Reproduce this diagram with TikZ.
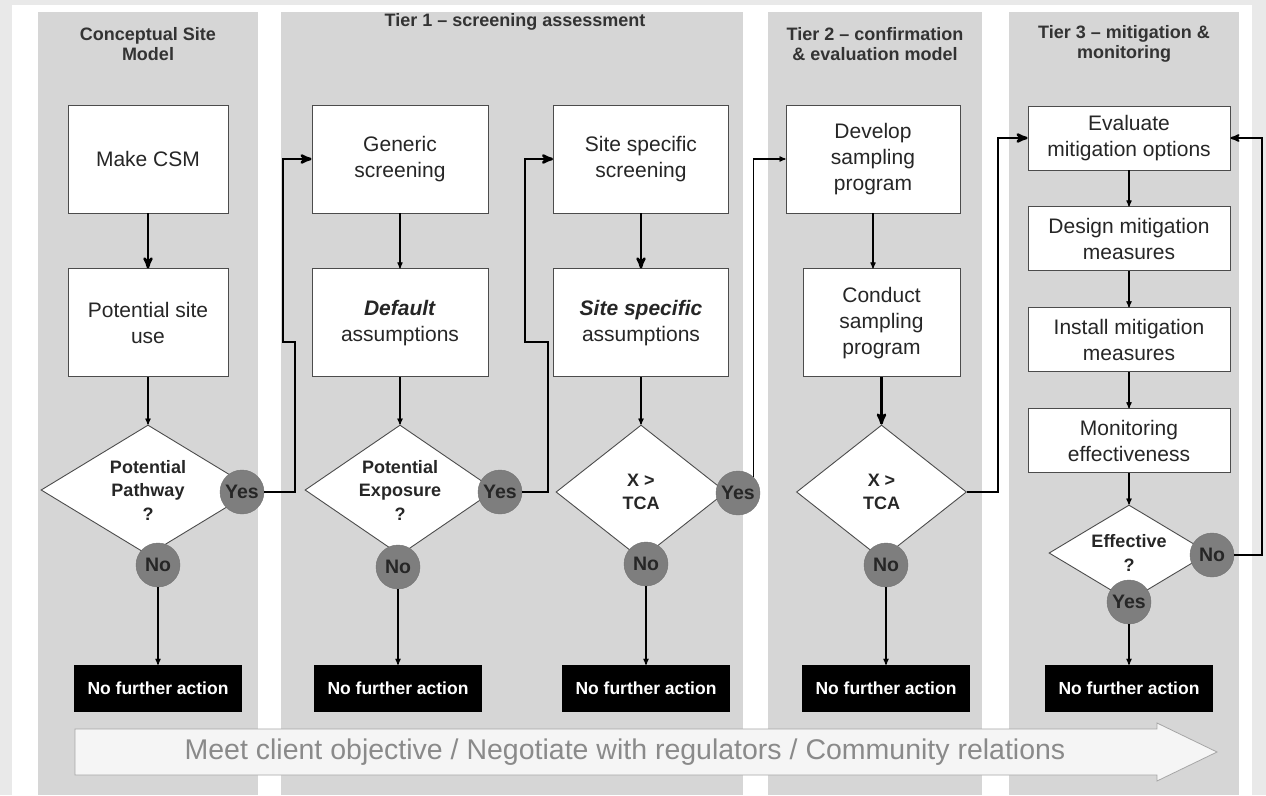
\documentclass[tikz,border=0pt]{standalone}
\usepackage{fontspec}
\setmainfont{Liberation Sans}
\usetikzlibrary{arrows,positioning,calc,shapes.geometric}

\definecolor{panelgray}{HTML}{D6D6D6}
\definecolor{framegray}{HTML}{E9E9E9}
\definecolor{dotgray}{HTML}{7E7E7E}
\definecolor{goaltext}{HTML}{8A8A8A}

\begin{document}
\begin{tikzpicture}[x=1pt,y=-1pt,>=stealth',
boxnode/.style={draw=black!70, fill=white, line width=0.9pt, align=center,
  minimum width=#1, minimum height=108pt, inner sep=2pt, text=black!85,
  font=\fontsize{21}{26}\selectfont},
boxnode/.default=160pt,
stepnode/.style={boxnode=202pt, minimum height=64pt},
diamondnode/.style={diamond, draw=black!70, fill=white, line width=0.9pt,
  align=center, inner sep=0pt, text=black!85,
  font=\bfseries\fontsize{18}{23.5}\selectfont},
roundnode/.style={circle, fill=dotgray, draw=black!55, minimum size=44pt,
  inner sep=0pt, text=black!85, font=\bfseries\fontsize{19.5}{20}\selectfont},
endnode/.style={fill=black, text=white, minimum width=168pt, minimum height=47pt,
  inner sep=0pt, font=\bfseries\fontsize{17.5}{20}\selectfont},
header/.style={align=center, text=black!80, font=\bfseries\fontsize{18}{20}\selectfont},
conn/.style={->, line width=1.2pt},
thickconn/.style={->, line width=2.6pt},
]
\useasboundingbox (0,0) rectangle (1266,795);

% panels
\fill[framegray] (0,0) rectangle (1266,795);
\fill[white] (12,5) rectangle (1252,795);
\fill[panelgray] (38,12) rectangle (258,795);
\fill[panelgray] (281,12) rectangle (743,795);
\fill[panelgray] (768,12) rectangle (982,795);
\fill[panelgray] (1009,12) rectangle (1239,795);

\node[header] (h1) at (148,44) {Conceptual Site\\Model};
\node[header] (h2) at (515,22) {Tier 1 -- screening assessment};
\node[header] (h3) at (875,44) {Tier 2 -- confirmation\\\& evaluation model};
\node[header] (h4) at (1124,44) {Tier 3 -- mitigation \&\\monitoring};

% conceptual site model
\node[boxnode] (csm) at (148,159) {Make CSM};
\node[boxnode, below=55pt of csm] (use) {Potential site\\use};
\node[diamondnode, minimum width=214pt, minimum height=130pt, shape aspect=1.65]
  (d1) at (148,490) {Potential\\Pathway\\?};
\node[roundnode] (y1) at (242,492) {Yes};
\node[roundnode] (n1) at (158,565) {No};
\node[endnode] (e1) at (158,688.5) {No further action};

% tier 1
\node[boxnode=176pt] (gen) at (400,159) {Generic\\screening};
\node[boxnode=176pt, below=55pt of gen] (dflt) {\textbf{\textit{Default}}\\assumptions};
\node[diamondnode, minimum width=190pt, minimum height=130pt, shape aspect=1.5]
  (d2) at (400,490) {Potential\\Exposure\\?};
\node[roundnode] (y2) at (500,492) {Yes};
\node[roundnode] (n2) at (398,567) {No};
\node[endnode] (e2) at (398,688.5) {No further action};

\node[boxnode=175pt] (sscr) at (641,159) {Site specific\\screening};
\node[boxnode=175pt, below=55pt of sscr] (sass) {\textbf{\textit{Site specific}}\\assumptions};
\node[diamondnode, minimum width=170pt, minimum height=134pt, shape aspect=1.3]
  (d3) at (641,492) {X >\\TCA};
\node[roundnode] (y3) at (738,493) {Yes};
\node[roundnode] (n3) at (646,564) {No};
\node[endnode] (e3) at (646,688.5) {No further action};

% tier 2
\node[boxnode=174pt] (dev) at (873,159) {Develop\\sampling\\program};
\node[boxnode=157pt, below=55pt of dev, xshift=8.5pt] (cond) {Conduct\\sampling\\program};
\node[diamondnode, minimum width=170pt, minimum height=134pt, shape aspect=1.3]
  (d4) at (881.5,492) {X >\\TCA};
\node[roundnode] (n4) at (886,565) {No};
\node[endnode] (e4) at (886,688.5) {No further action};

% tier 3
\node[stepnode] (eval) at (1129,138) {Evaluate\\mitigation options};
\node[stepnode, below=36pt of eval] (design) {Design mitigation\\measures};
\node[stepnode, below=36pt of design] (install) {Install mitigation\\measures};
\node[stepnode, below=36pt of install] (monitor) {Monitoring\\effectiveness};
\node[diamondnode, minimum width=160pt, minimum height=96pt, shape aspect=1.67]
  (d5) at (1129,553) {Effective\\?};
\node[roundnode] (n5) at (1212,555) {No};
\node[roundnode] (y5) at (1129,602) {Yes};
\node[endnode] (e5) at (1129,688.5) {No further action};

\coordinate (j1) at (295,342);
\coordinate (j2) at (283,342);
\coordinate (j3) at (548,342);
\coordinate (j4) at (525,342);
\coordinate (j5) at (998,492);
\coordinate (j6) at (1262,555);

\draw[thickconn] (csm) -- (use);
\draw[conn] (use) -- (d1);
\draw[conn] (n1) -- (e1);
\draw[thickconn] (y1.east) -| (j1) -- (j2) |- (gen.west);

\draw[conn] (gen) -- (dflt);
\draw[conn] (dflt) -- (d2);
\draw[conn] (n2) -- (e2);
\draw[thickconn] (y2.east) -| (j3) -- (j4) |- (sscr.west);

\draw[thickconn] (sscr) -- (sass);
\draw[conn] (sass) -- (d3);
\draw[conn] (n3) -- (e3);
\draw[conn] (y3.45) |- (dev.west);

\draw[conn] (dev.south) -- (dev.south |- cond.north);
\draw[thickconn] (cond) -- (d4);
\draw[conn] (n4) -- (e4);
\draw[thickconn] (d4.east) -- (j5) |- (eval.west);

\draw[conn] (eval) -- (design);
\draw[conn] (design) -- (install);
\draw[conn] (install) -- (monitor);
\draw[conn] (monitor) -- (d5);
\draw[conn] (y5) -- (e5);
\draw[->, line width=2pt] (n5.east) -- (j6) |- (eval.east);

% objective arrow
\draw[draw=black!35, fill=white!96!black, line width=0.8pt]
  (75,729) -- (1157,729) -- (1157,723) -- (1217,752) -- (1157,781)
  -- (1157,775) -- (75,775) -- cycle;
\node[text=goaltext, font=\fontsize{28.5}{30}\selectfont] (goal) at (625,752)
  {Meet client objective / Negotiate with regulators / Community relations};

\end{tikzpicture}
\end{document}
